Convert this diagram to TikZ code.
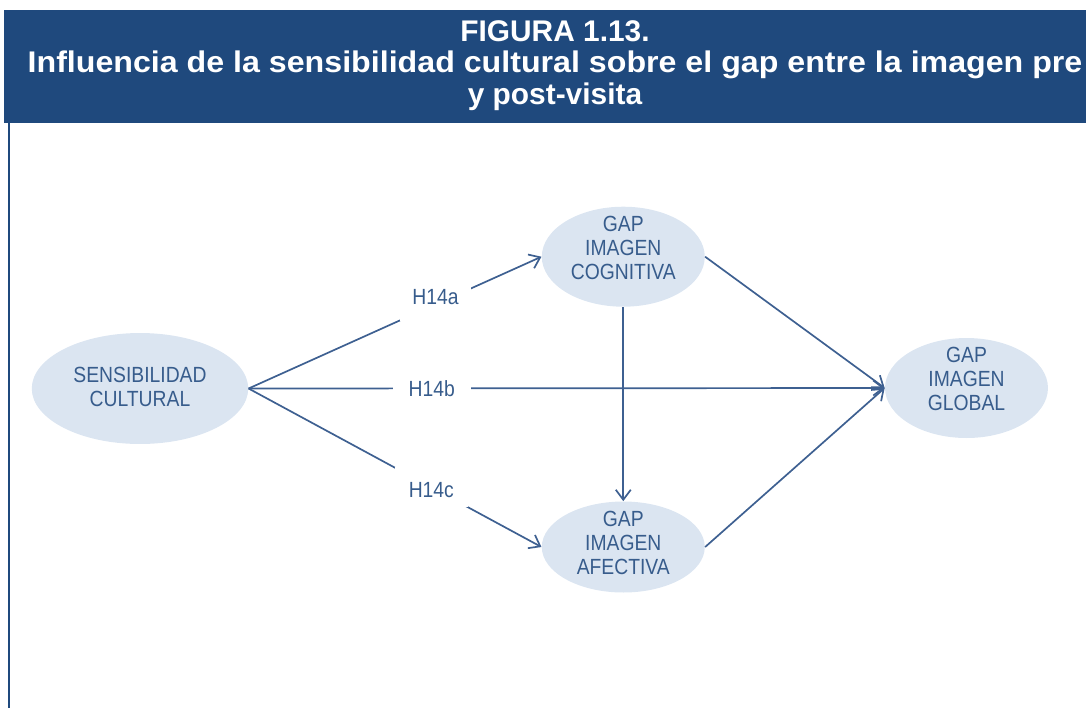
\documentclass[tikz,border=0pt]{standalone}
\usepackage{fontspec}
\setmainfont{Liberation Sans}
\newfontfamily\narrowfont{Liberation Sans}[FakeStretch=0.88]
\usetikzlibrary{shapes.geometric,positioning,arrows.meta}

\definecolor{headblue}{RGB}{31,73,125}
\definecolor{ellfill}{RGB}{219,229,241}
\definecolor{textblue}{RGB}{55,92,140}
\definecolor{lineblue}{RGB}{62,96,145}

\tikzset{
  titulo/.style = {text=white, align=center, inner sep=0pt,
    font=\bfseries\fontsize{17}{18}\selectfont},
  ellip/.style = {ellipse, fill=ellfill, inner sep=0pt},
  etext/.style = {text=textblue, align=center, inner sep=0pt,
    font=\narrowfont\fontsize{12.5}{13.7}\selectfont},
  hyp/.style = {fill=white, text=textblue, inner ysep=0pt,
    font=\narrowfont\fontsize{12.5}{13.7}\selectfont},
  conn/.style = {draw=lineblue, line width=0.034cm, ->}
}

\begin{document}
\begin{tikzpicture}[x=0.02cm, y=-0.02cm, >={Straight Barb[length=2mm,width=3mm]}]
  \useasboundingbox (0,0) rectangle (1086,708);
  % cabecera y borde
  \fill[headblue] (4,10) rectangle (1086,123);
  \draw[headblue, line width=0.04cm] (9,123) -- (9,708);
  \node[titulo, anchor=base] (tit) at (555,104.3) {FIGURA 1.13.\\\scalebox{1.077}[1]{Influencia de la sensibilidad cultural sobre el gap entre la imagen pre}\\y post-visita};

  % variables del modelo
  \node[ellip, minimum width=4.33cm, minimum height=2.22cm,
    label={[etext, yshift=0.04cm]center:{SENSIBILIDAD\\CULTURAL}}] (sens) at (140,388.5) {};
  \node[ellip, minimum width=3.26cm, minimum height=2cm,
    label={[etext, yshift=0.18cm]center:{GAP\\IMAGEN\\COGNITIVA}}] (cog) at (623.3,256.7) {};
  \node[ellip, minimum width=3.26cm, minimum height=1.82cm,
    label={[etext, yshift=0.08cm]center:{GAP\\IMAGEN\\AFECTIVA}}] (afe) at (623.3,547) {};
  \node[ellip, minimum width=3.26cm, minimum height=2cm,
    label={[etext, yshift=0.19cm]center:{GAP\\IMAGEN\\GLOBAL}}] (glo) at (966.5,388) {};

  % hipotesis
  \draw[conn] (sens.east) -- node[hyp, pos=.638, text height=.34cm, text depth=.34cm, inner xsep=.25cm] {H14a} (cog.west);
  \draw[conn] (sens.east) -- node[hyp, pos=.288, inner xsep=.32cm] {H14b} (glo.west);
  \draw[conn] (sens.east) -- node[hyp, pos=.624, text height=.6cm, text depth=.2cm, inner xsep=.28cm] {H14c} (afe.west);
  \draw[conn] (cog.south) -- (afe.north);
  \draw[conn] (cog.east) -- (glo.west);
  \draw[conn] (afe.east) -- (glo.west);
\end{tikzpicture}
\end{document}
